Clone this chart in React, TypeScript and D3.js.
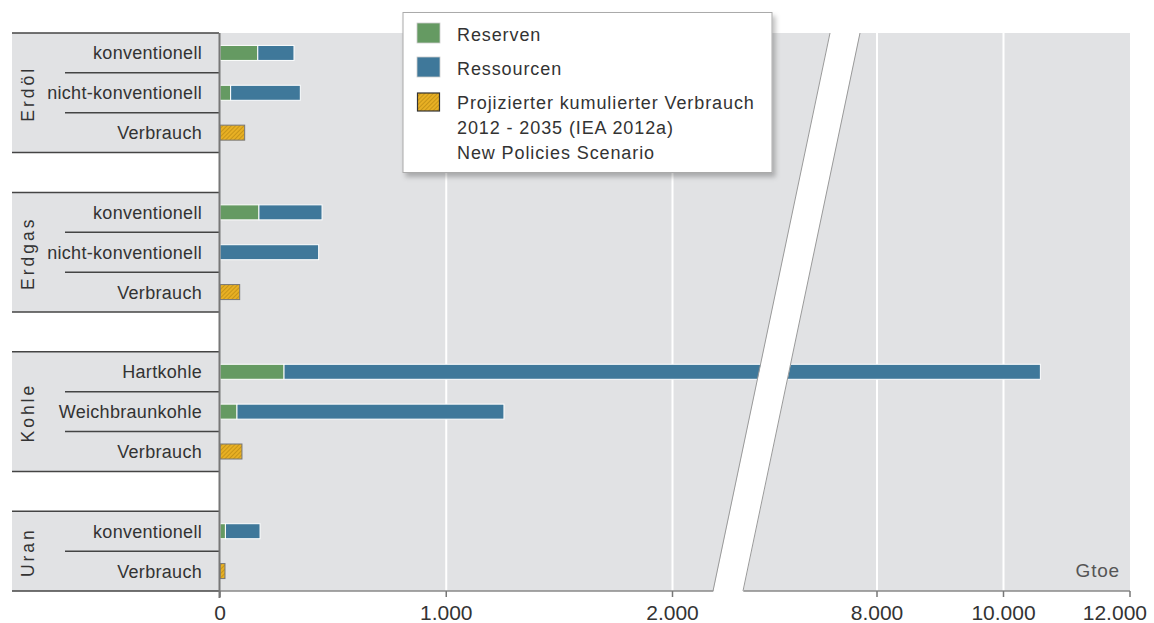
import React from "react";
import * as d3 from "d3";

// ---- data ----
const groups = ["Erdöl", "Erdgas", "Kohle", "Uran"];
const groupRows = [[0, 1, 2], [4, 5, 6], [8, 9, 10], [12, 13]];
const rowLabels = [
  "konventionell", "nicht-konventionell", "Verbrauch", "",
  "konventionell", "nicht-konventionell", "Verbrauch", "",
  "Hartkohle", "Weichbraunkohle", "Verbrauch", "",
  "konventionell", "Verbrauch",
];
const reserven = [167, 47, 0, 0, 172, 0, 0, 0, 283, 75, 0, 0, 24, 0];
const ressourcen = [160, 308, 0, 0, 279, 436, 0, 0, 10300, 1180, 0, 0, 153, 0];
const verbrauch = [0, 0, 109, 0, 0, 0, 87, 0, 0, 0, 97, 0, 0, 22];
const ticksLow = [0, 1000, 2000];
const ticksHigh = [8000, 10000, 12000];
const legendLabels = ["Reserven", "Ressourcen"];
const legendHatchLines = [
  "Projizierter kumulierter Verbrauch",
  "2012 - 2035 (IEA 2012a)",
  "New Policies Scenario",
];

const W = 1154;
const H = 623;
const FONT = "'Liberation Sans', Arial, sans-serif";
const GREEN = "#659a62";
const BLUE = "#3f789a";
const BG = "#e1e2e4";
const TEXT = "#333";

const fmt = d3.formatLocale({ decimal: ",", thousands: ".", grouping: [3], currency: ["", "€"] }).format(",");

export default function App() {
  const top = 33;
  const bottom = 591;
  const xLeft = 220;
  const xRight = 1130;
  const sLow = d3.scaleLinear().domain([0, 2000]).range([xLeft, 672.5]);
  const sHigh = d3.scaleLinear().domain([8000, 12000]).range([877, xRight]);
  const x = (v: number) => (v <= 2400 ? sLow(v) : sHigh(v));
  const y = d3.scaleBand<number>().domain(d3.range(14)).range([top, bottom]).paddingInner(0);
  const bh = 15;
  const breakPts = { tl: 830, tr: 860, bl: 713, br: 743 };

  return (
    <svg width={W} height={H} style={{ position: "absolute", left: 0, top: 0 }} fontFamily={FONT}>
      <defs>
        <pattern id="hatch" width="3" height="3" patternUnits="userSpaceOnUse" patternTransform="rotate(-45)">
          <rect width="3" height="3" fill="#e8b024" />
          <line x1="0" y1="0" x2="3" y2="0" stroke="#a67a0c" strokeWidth="1" />
        </pattern>
        <filter id="shadow" x="-5%" y="-5%" width="115%" height="125%">
          <feDropShadow dx="3" dy="4" stdDeviation="2.5" floodColor="#000" floodOpacity="0.25" />
        </filter>
      </defs>
      <rect width={W} height={H} fill="#fff" />
      {/* plot background */}
      <rect x={xLeft} y={top} width={xRight - xLeft} height={bottom - top} fill={BG} />
      {/* gridlines */}
      {[...ticksLow.slice(1).map((t) => sLow(t)), ...ticksHigh.slice(0, 2).map((t) => sHigh(t))].map((gx, i) => (
        <line key={i} x1={gx} x2={gx} y1={top} y2={bottom} stroke="#fff" strokeWidth={2} />
      ))}
      {/* left group boxes */}
      {groups.map((g, gi) => {
        const rows = groupRows[gi];
        const y0 = y(rows[0])!;
        const y1 = y(rows[rows.length - 1])! + y.bandwidth();
        return (
          <g key={g}>
            <rect x={12} y={y0} width={207} height={y1 - y0} fill={BG} />
            <line x1={12} x2={219} y1={y0} y2={y0} stroke="#444" strokeWidth={1.5} />
            <line x1={12} x2={219} y1={y1} y2={y1} stroke="#444" strokeWidth={1.5} />
            {rows.slice(1).map((r) => (
              <line key={r} x1={65} x2={219} y1={y(r)} y2={y(r)} stroke="#444" strokeWidth={1.5} />
            ))}
            <text
              transform={`translate(34,${(y0 + y1) / 2 + 1}) rotate(-90)`}
              textAnchor="middle"
              fontSize={17.5}
              letterSpacing={3}
              fill={TEXT}
            >
              {g}
            </text>
          </g>
        );
      })}
      {/* row labels */}
      {rowLabels.map((l, i) =>
        l ? (
          <text
            key={i}
            x={202}
            y={y(i)! + y.bandwidth() / 2 + 6.5}
            textAnchor="end"
            fontSize={18}
            letterSpacing={0.3}
            fill={TEXT}
          >
            {l}
          </text>
        ) : null
      )}
      {/* bars */}
      {rowLabels.map((_, i) => {
        const cy = y(i)! + y.bandwidth() / 2;
        const r = reserven[i];
        const s = ressourcen[i];
        const v = verbrauch[i];
        return (
          <g key={i}>
            {r > 0 && (
              <rect x={x(0)} y={cy - bh / 2} width={x(r) - x(0)} height={bh} fill={GREEN} stroke="#fff" strokeWidth={1} />
            )}
            {s > 0 && (
              <rect x={x(r)} y={cy - bh / 2} width={x(r + s) - x(r)} height={bh} fill={BLUE} stroke="#fff" strokeWidth={1} />
            )}
            {v > 0 && (
              <rect x={x(0)} y={cy - bh / 2} width={x(v) - x(0)} height={bh} fill="url(#hatch)" stroke="#777" strokeWidth={1} />
            )}
          </g>
        );
      })}
      {/* x axis */}
      <line x1={xLeft} x2={xRight} y1={bottom} y2={bottom} stroke="#888" strokeWidth={1.5} />
      {ticksLow.map((t) => (
        <g key={t}>
          <line x1={sLow(t)} x2={sLow(t)} y1={bottom} y2={bottom + 6} stroke="#777" strokeWidth={1.5} />
          <text x={sLow(t)} y={620} textAnchor="middle" fontSize={21} fill={TEXT}>
            {fmt(t)}
          </text>
        </g>
      ))}
      {ticksHigh.map((t, i) => (
        <g key={t}>
          <line x1={sHigh(t)} x2={sHigh(t)} y1={bottom} y2={bottom + 6} stroke="#777" strokeWidth={1.5} />
          <text
            x={i === ticksHigh.length - 1 ? 1147 : sHigh(t)}
            y={620}
            textAnchor={i === ticksHigh.length - 1 ? "end" : "middle"}
            fontSize={21}
            fill={TEXT}
          >
            {fmt(t)}
          </text>
        </g>
      ))}
      {/* axis break */}
      <polygon
        points={`${breakPts.tl},${top - 1} ${breakPts.tr},${top - 1} ${breakPts.br},${bottom + 2} ${breakPts.bl},${bottom + 2}`}
        fill="#fff"
      />
      <line x1={breakPts.tl} y1={top} x2={breakPts.bl} y2={bottom} stroke="#999" strokeWidth={1} />
      <line x1={breakPts.tr} y1={top} x2={breakPts.br} y2={bottom} stroke="#999" strokeWidth={1} />
      {/* y axis line */}
      <line x1={219.5} x2={219.5} y1={top} y2={bottom + 7} stroke="#777" strokeWidth={2} />
      {/* unit */}
      <text x={1120} y={577} textAnchor="end" fontSize={19} letterSpacing={0.8} fill="#555">
        Gtoe
      </text>
      {/* legend */}
      <g>
        <rect x={403} y={12.5} width={369} height={160} fill="#fff" stroke="#aaa" strokeWidth={1} filter="url(#shadow)" />
        {legendLabels.map((l, i) => (
          <g key={l}>
            <rect x={417} y={23 + i * 34} width={23} height={20} fill={i === 0 ? GREEN : BLUE} stroke="#ccc" strokeWidth={0.8} />
            <text x={457} y={41 + i * 33.5} fontSize={18} letterSpacing={0.9} fill={TEXT}>
              {l}
            </text>
          </g>
        ))}
        <rect x={417.5} y={93} width={22} height={18} fill="url(#hatch)" stroke="#333" strokeWidth={1.2} />
        {legendHatchLines.map((l, i) => (
          <text key={i} x={457} y={109 + i * 25} fontSize={18} letterSpacing={0.9} fill={TEXT}>
            {l}
          </text>
        ))}
      </g>
    </svg>
  );
}
